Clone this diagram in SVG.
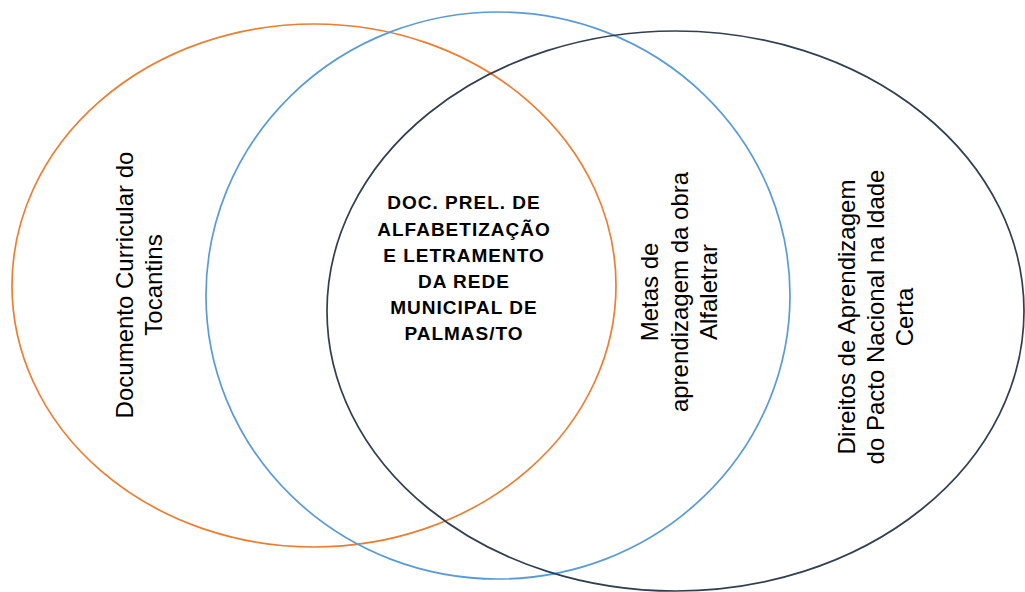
<svg xmlns="http://www.w3.org/2000/svg" width="1025" height="592" viewBox="0 0 1025 592">
<style>
.c{fill:none;stroke-width:1.7}
.t{font-family:"Liberation Sans",Arial,sans-serif;font-size:24px;fill:#000;text-anchor:middle}
.b{font-family:"Liberation Sans",Arial,sans-serif;font-size:19px;font-weight:bold;fill:#000;text-anchor:middle;letter-spacing:1px}
</style>
<rect width="1025" height="592" fill="#fff"/>
<g id="orange">
<ellipse class="c" cx="314" cy="285.5" rx="302" ry="261.5" stroke="#ED7D31"/>
<g transform="translate(0,285) rotate(-90)"><text class="t" x="0" y="133">Documento Curricular do</text><text class="t" x="0" y="162">Tocantins</text></g>
</g>
<g id="blue">
<ellipse class="c" cx="498" cy="295.5" rx="292" ry="283.5" stroke="#5B9BD5"/>
<g transform="translate(0,292) rotate(-90)"><text class="t" x="0" y="658">Metas  de</text><text class="t" x="0" y="688">aprendizagem da obra</text><text class="t" x="0" y="717">Alfaletrar</text></g>
</g>
<g id="dark">
<ellipse class="c" cx="675.5" cy="311" rx="348.5" ry="280" stroke="#323F4F"/>
<g transform="translate(0,317) rotate(-90)"><text class="t" x="0" y="855">Direitos de Aprendizagem</text><text class="t" x="0" y="884">do Pacto Nacional na Idade</text><text class="t" x="0" y="913">Certa</text></g>
</g>
<g id="center">
<text class="b" x="464" y="209">DOC. PREL. DE</text>
<text class="b" x="464" y="235.5">ALFABETIZAÇÃO</text>
<text class="b" x="464" y="261.5">E LETRAMENTO</text>
<text class="b" x="464" y="288">DA REDE</text>
<text class="b" x="464" y="314">MUNICIPAL DE</text>
<text class="b" x="464" y="340">PALMAS/TO</text>
</g>
<g id="connectors"/>
</svg>
